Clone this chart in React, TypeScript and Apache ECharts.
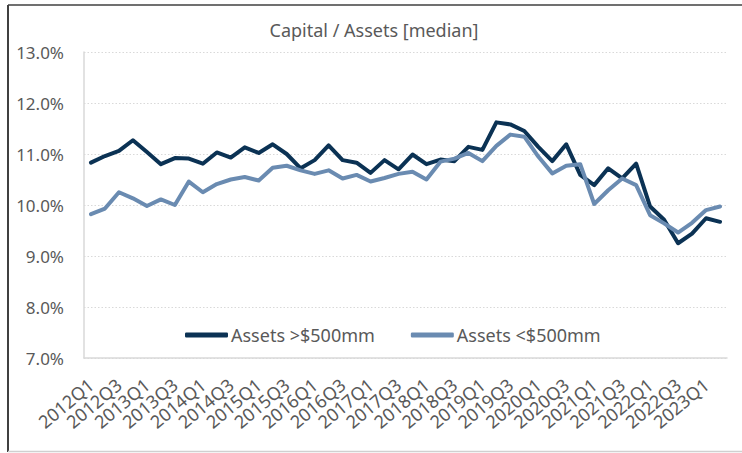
import React, { useEffect, useRef } from "react";
import * as echarts from "echarts";

const years = [2012, 2013, 2014, 2015, 2016, 2017, 2018, 2019, 2020, 2021, 2022, 2023];
const quarters: string[] = [];
years.forEach((y) => {
  for (let q = 1; q <= 4; q++) {
    if (y === 2023 && q > 2) break;
    quarters.push(`${y}Q${q}`);
  }
});

const large = [
  10.83, 10.96, 11.06, 11.27, 11.04, 10.8, 10.92, 10.91, 10.81, 11.03,
  10.93, 11.13, 11.02, 11.19, 11.0, 10.72, 10.88, 11.17, 10.88, 10.83,
  10.63, 10.88, 10.7, 10.99, 10.8, 10.89, 10.86, 11.14, 11.08, 11.62,
  11.58, 11.45, 11.14, 10.86, 11.19, 10.59, 10.39, 10.72, 10.52, 10.81,
  9.97, 9.71, 9.25, 9.44, 9.74, 9.67,
];

const small = [
  9.82, 9.93, 10.25, 10.13, 9.98, 10.11, 10.0, 10.46, 10.25, 10.41,
  10.5, 10.55, 10.48, 10.73, 10.77, 10.68, 10.61, 10.68, 10.52, 10.59,
  10.46, 10.53, 10.61, 10.65, 10.5, 10.85, 10.91, 11.02, 10.86, 11.16,
  11.38, 11.34, 10.95, 10.62, 10.77, 10.8, 10.02, 10.29, 10.52, 10.39,
  9.8, 9.64, 9.46, 9.65, 9.9, 9.97,
];

const seriesNames = ["Assets >$500mm", "Assets <$500mm"];
const title = "Capital / Assets [median]";
const FONT = "Noto Sans";
const GRAY = "#595959";

export default function App() {
  const ref = useRef<HTMLDivElement>(null);
  useEffect(() => {
    if (!ref.current) return;
    const chart = echarts.init(ref.current, null, { renderer: "svg" });
    chart.setOption({
      animation: false,
      backgroundColor: "#ffffff",
      textStyle: { fontFamily: FONT },
      title: {
        text: title,
        left: 374,
        top: 21,
        padding: 0,
        textAlign: "center",
        textStyle: { fontFamily: FONT, fontSize: 18, fontWeight: "normal", color: GRAY },
      },
      legend: {
        left: 185,
        top: 326,
        padding: 0,
        itemWidth: 43,
        itemHeight: 5,
        itemGap: 36,
        icon: "roundRect",
        textStyle: { fontFamily: FONT, fontSize: 18, color: GRAY, padding: [0, 0, 0, -2] },
        data: seriesNames,
      },
      grid: { left: 84, right: 15, top: 52, bottom: 95 },
      xAxis: {
        type: "category",
        data: quarters,
        boundaryGap: true,
        axisLine: { lineStyle: { color: "#d9d9d9", width: 1.5 } },
        axisTick: { show: false },
        axisLabel: {
          interval: 1,
          rotate: 40,
          margin: 24,
          fontFamily: FONT,
          fontSize: 18,
          color: GRAY,
        },
      },
      yAxis: {
        type: "value",
        min: 7,
        max: 13,
        interval: 1,
        axisLine: { show: true, lineStyle: { color: "#d9d9d9", width: 1.5 } },
        axisLabel: {
          margin: 20,
          fontFamily: FONT,
          fontSize: 17,
          color: GRAY,
          formatter: (v: number) => v.toFixed(1) + "%",
        },
        splitLine: { lineStyle: { color: "#d9d9d9", type: [1.5, 2], width: 1 } },
      },
      series: [
        {
          name: seriesNames[0],
          type: "line",
          data: large,
          symbol: "none",
          lineStyle: { width: 4, color: "#0b3254", cap: "round", join: "round" },
          itemStyle: { color: "#0b3254" },
        },
        {
          name: seriesNames[1],
          type: "line",
          data: small,
          symbol: "none",
          lineStyle: { width: 4, color: "#6a8bb1", cap: "round", join: "round" },
          itemStyle: { color: "#6a8bb1" },
        },
      ],
      graphic: [
        { type: "line", shape: { x1: 8, y1: 5, x2: 742, y2: 5 }, style: { stroke: "#707070", lineWidth: 2 } },
        { type: "line", shape: { x1: 8, y1: 5, x2: 8, y2: 452 }, style: { stroke: "#404040", lineWidth: 2 } },
        { type: "line", shape: { x1: 8, y1: 451.5, x2: 742, y2: 451.5 }, style: { stroke: "#d0d0d0", lineWidth: 1.5 } },
      ],
    });
    return () => chart.dispose();
  }, []);
  return (
    <div
      ref={ref}
      style={{ position: "fixed", left: 0, top: 0, width: 742, height: 453 }}
    />
  );
}
